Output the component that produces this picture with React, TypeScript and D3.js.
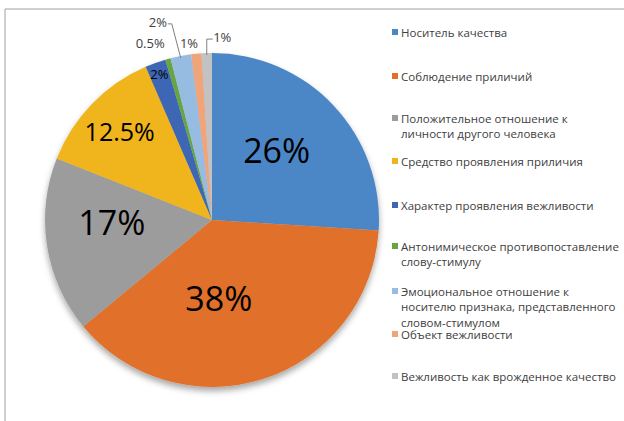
import React from "react";
import * as d3 from "d3";

const categories = [
  "Носитель качества",
  "Соблюдение приличий",
  "Положительное отношение к|личности другого человека",
  "Средство проявления приличия",
  "Характер проявления вежливости",
  "Антонимическое противопоставление|слову-стимулу",
  "Эмоциональное отношение к|носителю признака, представленного|словом-стимулом",
  "Объект вежливости",
  "Вежливость как врожденное качество",
];
const values = [26, 38, 17, 12.5, 2, 0.5, 2, 1, 1];
const valueLabels = ["26%", "38%", "17%", "12.5%", "2%", "0.5%", "2%", "1%", "1%"];
const colors = [
  "#4B87C6",
  "#E0702C",
  "#9C9C9C",
  "#F0B41A",
  "#3D66B5",
  "#67A442",
  "#96BCE2",
  "#F0A47A",
  "#C2C2C2",
];
// legend rows (top y of each entry)
const legendY = [32, 76, 118, 161, 205, 246, 291, 334, 376];

const W = 624;
const H = 421;
const cx = 212;
const cy = 220;
const R = 167;
const FONT = "'Open Sans', 'DejaVu Sans', sans-serif";

export default function App() {
  const pie = d3.pie<number>().sort(null).value((d) => d);
  const arcs = pie(values);
  const arc = d3.arc<d3.PieArcDatum<number>>().innerRadius(0).outerRadius(R);

  const polar = (angle: number, r: number): [number, number] => [
    Math.sin(angle) * r,
    -Math.cos(angle) * r,
  ];
  const mid = (a: d3.PieArcDatum<number>) => (a.startAngle + a.endAngle) / 2;

  // label placement: [radius factor, angle nudge (deg), font size]
  const labelSpec: [number, number, number][] = [
    [0.57, -4, 34],
    [0.47, 13, 34],
    [0.6, 8, 34],
    [0.77, 0, 25],
    [0.93, 0, 13],
    [1.12, -4, 13],
    [1.23, -4.5, 13],
    [1.07, -2, 13],
    [1.1, 5, 13],
  ];

  const lp = (i: number) => {
    const [rf, nudge] = labelSpec[i];
    return polar(mid(arcs[i]) + (nudge * Math.PI) / 180, R * rf);
  };

  const lbl6 = lp(6);
  const e6 = polar(mid(arcs[6]), R);
  const e8 = polar(mid(arcs[8]), R);

  return (
    <svg
      width={W}
      height={H}
      style={{ position: "absolute", left: 0, top: 0, background: "#fff" }}
    >
      <defs>
        <filter id="shadow" x="-20%" y="-20%" width="140%" height="140%">
          <feDropShadow dx="0" dy="4" stdDeviation="3" floodColor="#000" floodOpacity="0.35" />
        </filter>
      </defs>
      <path d={`M5,${H} V9 H${W}`} fill="none" stroke="#a0a0a0" strokeWidth={1} />
      <g transform={`translate(${cx},${cy})`}>
        <g filter="url(#shadow)">
          {arcs.map((a, i) => (
            <path key={i} d={arc(a) || ""} fill={colors[i]} />
          ))}
        </g>
        {/* leader lines */}
        <polyline
          points={`${lbl6[0] + 10},${lbl6[1] + 2} ${lbl6[0] + 14},${lbl6[1] + 2} ${e6[0]},${e6[1] + 2}`}
          fill="none"
          stroke="#7f7f7f"
          strokeWidth={1}
        />
        <polyline
          points={`${e8[0]},${e8[1] + 2} ${e8[0]},${e8[1] - 14} ${e8[0] + 6},${e8[1] - 14}`}
          fill="none"
          stroke="#7f7f7f"
          strokeWidth={1}
        />
        {arcs.map((a, i) => {
          const fs = labelSpec[i][2];
          const [x, y] = lp(i);
          return (
            <text
              key={i}
              x={x}
              y={y}
              textAnchor="middle"
              dominantBaseline="central"
              fontFamily={FONT}
              fontSize={fs}
              fill={i >= 5 ? "#404040" : "#000"}
            >
              {valueLabels[i]}
            </text>
          );
        })}
      </g>
      {categories.map((c, i) => (
        <g key={i} transform={`translate(392,${legendY[i]})`}>
          <rect x={0} y={-3} width={6} height={6} fill={colors[i]} />
          {c.split("|").map((line, j) => (
            <text
              key={j}
              x={9}
              y={j * 15.5}
              dominantBaseline="central"
              fontFamily={FONT}
              fontSize={11.5}
              fill="#404040"
            >
              {line}
            </text>
          ))}
        </g>
      ))}
    </svg>
  );
}
